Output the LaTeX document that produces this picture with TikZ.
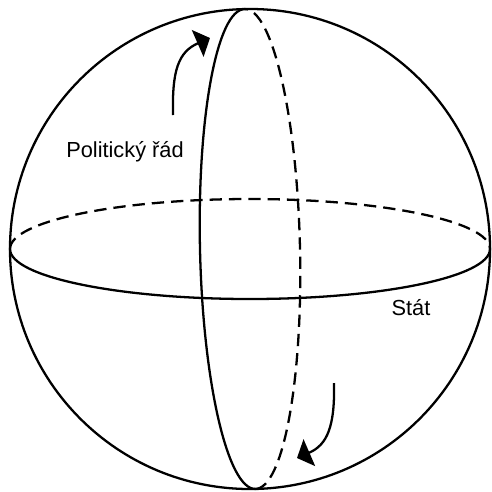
\documentclass[tikz,border=0pt]{standalone}
\usepackage{fontspec}
\setmainfont{Liberation Sans}
\usetikzlibrary{arrows.meta}

\begin{document}
\begin{tikzpicture}[
  x=0.02cm, y=0.02cm,
  rim/.style={line width=1.3pt},
  hidden/.style={line width=1.3pt, dash pattern=on 7pt off 4pt},
  turn/.style={line width=1.3pt, -{Triangle[length=2.7mm, width=5.8mm]}},
  lbl/.style={font=\fontsize{12.4}{15}\selectfont, inner sep=0pt},
]
  \useasboundingbox (-250,-242) rectangle (242,249);
  \coordinate (c) at (0,0);
  \draw[rim] (c) circle [radius=240];
  \draw[hidden] (c) ++(-240,0) arc [start angle=180, end angle=0, x radius=240, y radius=50];
  \draw[rim] (c) ++(-240,0) arc [start angle=180, end angle=360, x radius=240, y radius=50];
  \begin{scope}[rotate=1.3]
    \draw[rim] (c) ++(0,240) arc [start angle=90, end angle=270, x radius=50, y radius=240];
    \draw[hidden] (c) ++(0,-240) arc [start angle=-90, end angle=90, x radius=50, y radius=240];
  \end{scope}
  \node[lbl] (rad) at (-125,97) {Politický řád};
  \node[lbl] (stat) at (161,-59) {Stát};
  \coordinate (up0) at (-77,134);
  \coordinate (up1) at (-40,211);
  \coordinate (dn0) at (84,-134);
  \coordinate (dn1) at (47,-209);
  \draw[turn] (up0) .. controls (-78,178) and (-72,197) .. (up1);
  \draw[turn] (dn0) .. controls (85,-178) and (77,-196) .. (dn1);
\end{tikzpicture}
\end{document}
